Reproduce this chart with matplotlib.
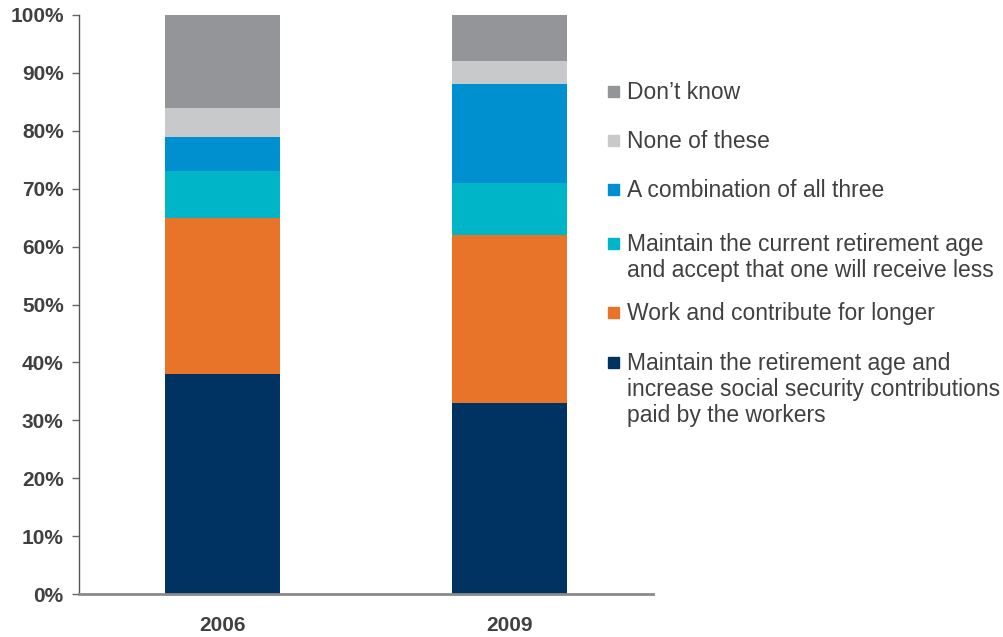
import matplotlib.pyplot as plt
from matplotlib.patches import Rectangle
import numpy as np

plt.rcParams['font.family'] = ['Liberation Sans', 'DejaVu Sans']

years = ["2006", "2009"]
categories = [
    "Maintain the retirement age and\nincrease social security contributions\npaid by the workers",
    "Work and contribute for longer",
    "Maintain the current retirement age\nand accept that one will receive less",
    "A combination of all three",
    "None of these",
    "Don\u2019t know",
]
values = [
    [38, 33],   # maintain age, increase contributions
    [27, 29],   # work longer
    [8, 9],     # maintain age, receive less
    [6, 17],    # combination
    [5, 4],     # none
    [16, 8],    # don't know
]
colors = ["#003361", "#E8742A", "#00B5C8", "#0090D0", "#C8C9CB", "#939598"]

W, H = 1004, 637
fig = plt.figure(figsize=(W / 100, H / 100), dpi=100)
ax = fig.add_axes([79 / W, 43 / H, 574 / W, 579 / H])

x = np.arange(len(years))
bottom = np.zeros(len(years))
for vals, col in zip(values, colors):
    ax.bar(x, vals, bottom=bottom, width=0.4, color=col, linewidth=0)
    bottom += np.array(vals)

ax.set_xlim(-0.5, 1.5)
ax.set_ylim(0, 100)
ax.set_yticks(range(0, 101, 10))
ax.set_yticklabels([f"{v}%" for v in range(0, 101, 10)])
ax.set_xticks(x)
ax.set_xticklabels(years)

text_col = "#404040"
for lab in ax.get_yticklabels() + ax.get_xticklabels():
    lab.set_fontweight("bold")
    lab.set_fontsize(15)
    lab.set_color(text_col)
ax.tick_params(axis="y", length=5, width=1, color="#666666", pad=6, direction="out")
ax.tick_params(axis="x", length=0, pad=16)

for s in ["top", "right"]:
    ax.spines[s].set_visible(False)
ax.spines["left"].set_color("#555555")
ax.spines["left"].set_linewidth(1)
ax.spines["bottom"].set_color("#8a8a8a")
ax.spines["bottom"].set_linewidth(2)

# legend, top entry first
label_y = [91, 140, 189, 243, 312, 362]
for lab, col, yy in zip(categories[::-1], colors[::-1], label_y):
    fig.patches.append(Rectangle((608 / W, 1 - (yy + 6) / H), 11 / W, 11 / H,
                                 transform=fig.transFigure, color=col))
    fig.text(627 / W, 1 - (yy - 10) / H, lab, fontsize=16.5, color=text_col,
             va="top", ha="left", linespacing=1.18)

fig.savefig("out.png", dpi=100)
